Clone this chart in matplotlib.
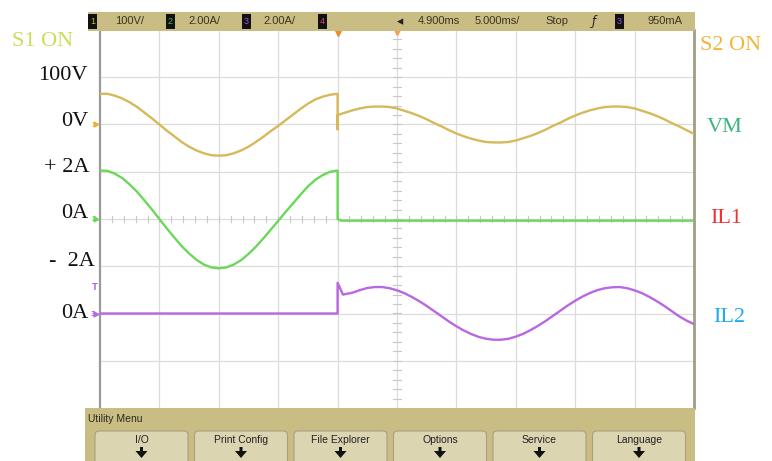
import matplotlib
matplotlib.use("Agg")
import matplotlib.pyplot as plt
from matplotlib.patches import Rectangle, FancyBboxPatch, Polygon
from matplotlib.transforms import IdentityTransform
import numpy as np

# ---- waveform samples (time in ms, values in V / A) ----
SAMPLE_STEP = 0.625  # ms between samples
T_BEFORE = list(np.arange(0.0, 20.0 + 1e-9, SAMPLE_STEP))   # 0 .. 20 ms
T_AFTER = list(np.arange(20.0, 50.0 + 1e-9, SAMPLE_STEP))   # 20 .. 50 ms

VM_BEFORE = [65, 65, 61, 55, 47, 37, 25, 13, 0, -13, -25, -37, -47, -55, -61,
             -65, -66, -65, -61, -55, -47, -37, -26, -14, -3, 9, 21, 33, 44,
             53, 59, 63, 65]
VM_SPIKE = -10
VM_AFTER = [20, 25, 30, 34, 37, 38, 38, 37, 34, 29, 24, 18, 11, 3, -4, -12,
            -19, -25, -30, -34, -37, -38, -38, -37, -34, -29, -24, -18, -11,
            -3, 4, 12, 19, 25, 30, 34, 37, 38, 38, 37, 34, 29, 24, 18, 11, 3,
            -4, -12, -20]

IL1_BEFORE = [2.05, 2.04, 1.92, 1.73, 1.46, 1.15, 0.78, 0.40, 0.00, -0.40,
              -0.78, -1.15, -1.46, -1.73, -1.93, -2.05, -2.09, -2.05, -1.93,
              -1.74, -1.48, -1.17, -0.82, -0.45, -0.08, 0.30, 0.66, 1.03, 1.38,
              1.66, 1.86, 2.00, 2.05]
IL1_AFTER_T = [20.0, 20.3, 50.0]
IL1_AFTER = [0.0, -0.07, -0.07]

IL2_BEFORE_T = [0.0, 20.0]
IL2_BEFORE = [0.0, 0.0]
IL2_STEP_T = [20.0, 20.45]
IL2_STEP = [1.30, 0.80]
IL2_AFTER = [0.88, 0.99, 1.08, 1.12, 1.12, 1.07, 0.98, 0.86, 0.70, 0.52, 0.32,
             0.10, -0.12, -0.34, -0.54, -0.72, -0.87, -0.99, -1.07, -1.11,
             -1.11, -1.07, -0.98, -0.86, -0.70, -0.52, -0.32, -0.10, 0.12,
             0.34, 0.54, 0.72, 0.87, 0.99, 1.07, 1.11, 1.12, 1.07, 0.98, 0.86,
             0.70, 0.52, 0.32, 0.10, -0.12, -0.30, -0.45]

# ---- scope settings ----
VM_SCALE, VM_OFFSET = 100.0, 2.0      # V/div, div
IL1_SCALE, IL1_OFFSET = 2.0, 0.0      # A/div, div
IL2_SCALE, IL2_OFFSET = 2.0, -2.0     # A/div, div

HEADER_ITEMS = ["100V/", "2.00A/", "2.00A/"]
TIMEBASE_ITEMS = ["4.900ms", "5.000ms/", "Stop"]
TRIG_LEVEL = "950mA"
MENU_TITLE = "Utility Menu"
MENU_BUTTONS = ["I/O", "Print Config", "File Explorer", "Options", "Service", "Language"]

C_VM = "#d6b95a"
C_IL1 = "#6bd85a"
C_IL2 = "#b868e0"
KHAKI = "#c9bd84"
NARROW = ["Liberation Sans Narrow", "Liberation Sans", "DejaVu Sans"]
SERIF = ["Liberation Serif", "DejaVu Serif"]

W, H = 772, 461
fig = plt.figure(figsize=(W / 100, H / 100), dpi=100)
fig.patch.set_facecolor("white")


def fx(x):
    return x / W


def fy(y):
    return 1 - y / H


def pix(x, y):
    # image pixel (top-left origin) -> display pixel
    return (x, H - y)


# ---- screen area ----
SX0, SX1, SY0, SY1 = 100, 694, 30, 408
ax = fig.add_axes([fx(SX0), fy(SY1), fx(SX1) - fx(SX0), fy(SY0) - fy(SY1)])
ax.set_xlim(0, 50)
ax.set_ylim(-4, 4)
ax.axis("off")

for xv in np.arange(5, 50, 5):
    ax.axvline(xv, color="#dcdcdc", lw=0.9, zorder=1)
for yv in np.arange(-3, 4, 1):
    ax.axhline(yv, color="#dcdcdc", lw=0.9, zorder=1)
for xv in np.arange(0, 50.01, 1):
    ax.plot([xv, xv], [-0.06, 0.06], color="#c8c8c8", lw=0.8, zorder=1)
for yv in np.arange(-4, 4.01, 0.2):
    ax.plot([24.7, 25.3], [yv, yv], color="#c8c8c8", lw=0.8, zorder=1)

# borders of the screen
ax.plot([0, 0], [-4, 4], color="#9a9a9a", lw=1.6, zorder=3, clip_on=False)
ax.plot([50, 50], [-4, 4], color="#a29d85", lw=2.0, zorder=3, clip_on=False)

# ---- traces ----
vm_t = T_BEFORE + [20.0] + T_AFTER
vm_v = VM_BEFORE + [VM_SPIKE] + VM_AFTER
ax.plot(vm_t, np.array(vm_v) / VM_SCALE + VM_OFFSET, color=C_VM, lw=1.7,
        zorder=4, solid_joinstyle="round")

il1_t = T_BEFORE + IL1_AFTER_T
il1_v = IL1_BEFORE + IL1_AFTER
ax.plot(il1_t, np.array(il1_v) / IL1_SCALE + IL1_OFFSET, color=C_IL1, lw=1.7,
        zorder=4, solid_joinstyle="round")

il2_t = IL2_BEFORE_T + IL2_STEP_T + T_AFTER[2:]
il2_v = IL2_BEFORE + IL2_STEP + IL2_AFTER
ax.plot(il2_t, np.array(il2_v) / IL2_SCALE + IL2_OFFSET, color=C_IL2, lw=1.7,
        zorder=4, solid_joinstyle="round")

# channel ground markers at the left edge
for off, col, num in [(VM_OFFSET, "#f0b030", "1"), (IL1_OFFSET, C_IL1, "2"),
                      (IL2_OFFSET, C_IL2, "3")]:
    ax.text(-0.35, off, num, color=col, fontsize=5, ha="right", va="center",
            fontweight="bold", clip_on=False, zorder=5)
    ax.plot([-0.3], [off], marker=">", color=col, markersize=3.5,
            clip_on=False, zorder=5)
ax.text(-0.2, -1.45, "T", color=C_IL2, fontsize=6, ha="right", va="center",
        fontweight="bold", clip_on=False, zorder=5)

# trigger / delay markers under the header
ax.plot([20.0], [3.93], marker="v", color="#f08a30", markersize=5,
        clip_on=False, zorder=6)
ax.plot([25.0], [3.95], marker="v", color="#f5a050", markersize=4,
        clip_on=False, zorder=6)

# ---- header bar ----
fig.add_artist(Rectangle(pix(88, 31), 607, 19, transform=IdentityTransform(),
                         facecolor=KHAKI, edgecolor="none", zorder=2))


def num_box(x, num, col):
    fig.add_artist(Rectangle(pix(x, 29), 9, 15, transform=IdentityTransform(),
                             facecolor="#111111", edgecolor="none", zorder=3))
    fig.text(fx(x + 4.5), fy(21.5), num, color=col, fontsize=6.5,
             ha="center", va="center", family=NARROW, zorder=4)


num_box(88, "1", "#c8c020")
num_box(166, "2", "#40c040")
num_box(242, "3", "#a050e0")
num_box(318, "4", "#e04080")
num_box(615, "3", "#a050e0")

hdr = dict(fontsize=8, color="#3a3520", va="center", family=NARROW, zorder=4)
fig.text(fx(115), fy(21.5), HEADER_ITEMS[0], ha="left", **hdr)
fig.text(fx(188), fy(21.5), HEADER_ITEMS[1], ha="left", **hdr)
fig.text(fx(263), fy(21.5), HEADER_ITEMS[2], ha="left", **hdr)
fig.text(fx(400), fy(22), "\u25c2", ha="center", fontsize=9, color="#222222",
         va="center", zorder=4)
fig.text(fx(418), fy(21.5), TIMEBASE_ITEMS[0], ha="left", **hdr)
fig.text(fx(475), fy(21.5), TIMEBASE_ITEMS[1], ha="left", **hdr)
fig.text(fx(545), fy(21.5), TIMEBASE_ITEMS[2], ha="left", **hdr)
fig.text(fx(594), fy(21.5), "\u0192", ha="center", fontsize=8.5,
         color="#222222", va="center", style="italic", zorder=4)
fig.text(fx(648), fy(21.5), TRIG_LEVEL, ha="left", **hdr)

# ---- bottom menu panel ----
fig.add_artist(Rectangle(pix(85, 461), 610, 53, transform=IdentityTransform(),
                         facecolor=KHAKI, edgecolor="none", zorder=2))
fig.text(fx(88), fy(419), MENU_TITLE, ha="left", va="center", fontsize=7.5,
         color="#2a2a20", family=NARROW, zorder=4)

bx0, bw, bstep = 95, 93, 99.5
for i, lab in enumerate(MENU_BUTTONS):
    x0 = bx0 + i * bstep
    fig.add_artist(FancyBboxPatch(pix(x0, 466), bw, 35,
                                  boxstyle="round,pad=0,rounding_size=4",
                                  transform=IdentityTransform(),
                                  facecolor="#dcd5b2", edgecolor="#a8a080",
                                  lw=0.8, zorder=3))
    xc = x0 + bw / 2
    fig.text(fx(xc), fy(440), lab, ha="center", va="center", fontsize=7.5,
             color="#222222", family=NARROW, zorder=4)
    arrow = [pix(xc - 1.5, 447), pix(xc + 1.5, 447), pix(xc + 1.5, 451),
             pix(xc + 6, 451), pix(xc, 458), pix(xc - 6, 451), pix(xc - 1.5, 451)]
    fig.add_artist(Polygon(arrow, closed=True, transform=IdentityTransform(),
                           facecolor="#111111", edgecolor="none", zorder=4))

# ---- annotation labels ----
lab = dict(fontsize=16, family=SERIF, va="center")
fig.text(fx(12), fy(42), "S1 ON", ha="left", color="#c6e05a", **lab)
fig.text(fx(700), fy(46), "S2 ON", ha="left", color="#f2b535", **lab)
fig.text(fx(88), fy(76), "100V", ha="right", color="#111111", **lab)
fig.text(fx(88), fy(122), "0V", ha="right", color="#111111", **lab)
fig.text(fx(90), fy(167), "+ 2A", ha="right", color="#111111", **lab)
fig.text(fx(88), fy(213), "0A", ha="right", color="#111111", **lab)
fig.text(fx(95), fy(262), "-  2A", ha="right", color="#111111", **lab)
fig.text(fx(88), fy(313), "0A", ha="right", color="#111111", **lab)
fig.text(fx(707), fy(127), "VM", ha="left", color="#3cb67a", **lab)
fig.text(fx(710), fy(218), "IL1", ha="left", color="#f03232", **lab)
fig.text(fx(713), fy(318), "IL2", ha="left", color="#22aaee", **lab)

fig.savefig("out.png", dpi=100)
